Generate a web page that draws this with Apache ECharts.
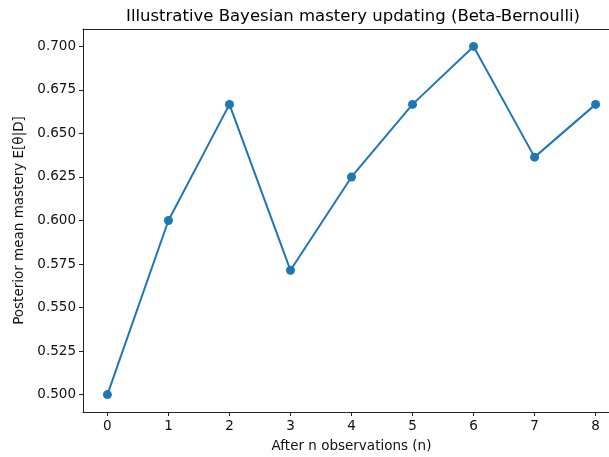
<!DOCTYPE html>
<html><head><meta charset="utf-8">
<script src="https://cdn.jsdelivr.net/npm/echarts@6/dist/echarts.min.js"></script>
<style>html,body{margin:0;padding:0;background:#fff}#c{width:609px;height:457px}</style>
</head><body><div id="c"></div>
<script>
const observations = [0, 1, 2, 3, 4, 5, 6, 7, 8];
const posteriorMean = [0.5, 0.6, 0.6667, 0.5714, 0.625, 0.6667, 0.7, 0.6364, 0.6667];
const yTicks = [0.5, 0.525, 0.55, 0.575, 0.6, 0.625, 0.65, 0.675, 0.7];
const xTicks = [0, 1, 2, 3, 4, 5, 6, 7, 8];
const titleText = 'Illustrative Bayesian mastery updating (Beta-Bernoulli)';
const xLabel = 'After n observations (n)';
const yLabel = 'Posterior mean mastery E[θ|D]';

const font = 'DejaVu Sans';
const chart = echarts.init(document.getElementById('c'), null, {renderer: 'canvas'});
const spine = {show: true, onZero: false, lineStyle: {color: '#222', width: 1}};
chart.setOption({
  animation: false,
  title: {text: titleText, left: 348, top: 3, textAlign: 'center',
    textStyle: {fontFamily: font, fontSize: 16.5, fontWeight: 'normal', color: '#000'}},
  grid: {left: 83, top: 29, right: -11, bottom: 45, containLabel: false, outerBoundsMode: 'none'},
  xAxis: [{
    type: 'value', min: -0.4, max: 8.4,
    name: xLabel, nameLocation: 'middle', nameGap: 27,
    nameTextStyle: {fontFamily: font, fontSize: 13.5, color: '#111'},
    axisLine: spine,
    axisTick: {show: true, customValues: xTicks, length: 4, lineStyle: {color: '#222'}},
    axisLabel: {customValues: xTicks, fontFamily: font, fontSize: 13.5, color: '#111', margin: 7},
    splitLine: {show: false}
  }, {
    type: 'value', min: -0.4, max: 8.4, position: 'top',
    axisLine: spine, axisTick: {show: false}, axisLabel: {show: false}, splitLine: {show: false}
  }],
  yAxis: [{
    type: 'value', min: 0.49, max: 0.71,
    name: yLabel, nameLocation: 'middle', nameGap: 56, nameRotate: 90,
    nameTextStyle: {fontFamily: font, fontSize: 13.5, color: '#111'},
    axisLine: spine,
    axisTick: {show: true, customValues: yTicks, length: 4, lineStyle: {color: '#222'}},
    axisLabel: {customValues: yTicks, fontFamily: font, fontSize: 13.5, color: '#111', margin: 7,
      formatter: v => v.toFixed(3)},
    splitLine: {show: false}
  }, {
    type: 'value', min: 0.49, max: 0.71, position: 'right',
    axisLine: spine, axisTick: {show: false}, axisLabel: {show: false}, splitLine: {show: false}
  }],
  series: [{
    type: 'line',
    data: observations.map((x, i) => [x, posteriorMean[i]]),
    symbol: 'circle', symbolSize: 9,
    lineStyle: {color: '#1f77b4', width: 2},
    itemStyle: {color: '#1f77b4'}
  }]
});
</script>
</body></html>
